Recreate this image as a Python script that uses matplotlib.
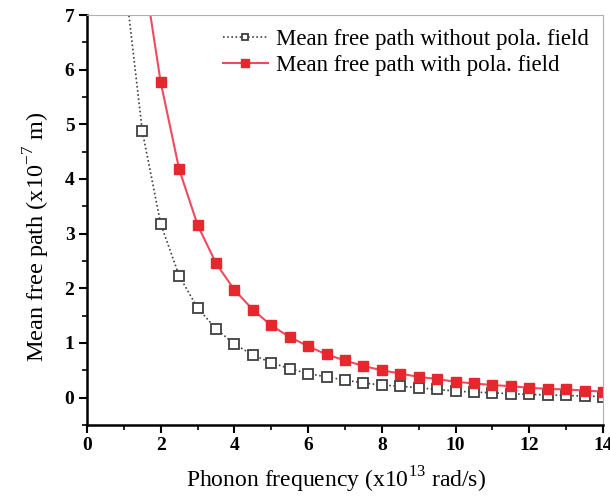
import matplotlib
matplotlib.use("Agg")
import matplotlib.pyplot as plt
from matplotlib.ticker import MultipleLocator

freq_without = [1.0, 1.5, 2.0, 2.5, 3.0, 3.5, 4.0, 4.5, 5.0, 5.5, 6.0, 6.5, 7.0, 7.5,
                8.0, 8.5, 9.0, 9.5, 10.0, 10.5, 11.0, 11.5, 12.0, 12.5, 13.0, 13.5, 14.0]
mfp_without = [7.8, 4.88, 3.18, 2.23, 1.64, 1.26, 0.98, 0.78, 0.64, 0.53, 0.44, 0.38, 0.32, 0.27,
               0.23, 0.21, 0.18, 0.15, 0.12, 0.10, 0.09, 0.07, 0.06, 0.05, 0.04, 0.03, 0.02]

freq_with = [1.5, 2.0, 2.5, 3.0, 3.5, 4.0, 4.5, 5.0, 5.5, 6.0, 6.5, 7.0, 7.5,
             8.0, 8.5, 9.0, 9.5, 10.0, 10.5, 11.0, 11.5, 12.0, 12.5, 13.0, 13.5, 14.0]
mfp_with = [7.97, 5.77, 4.18, 3.16, 2.46, 1.97, 1.61, 1.32, 1.11, 0.94, 0.79, 0.68, 0.58,
            0.50, 0.44, 0.38, 0.34, 0.29, 0.26, 0.23, 0.21, 0.18, 0.16, 0.15, 0.13, 0.11]

label_without = "Mean free path without pola. field"
label_with = "Mean free path with pola. field"
xlabel = "Phonon frequency (x10$^{13}$ rad/s)"
ylabel = "Mean free path (x10$^{-7}$ m)"

plt.rcParams['font.family'] = ['Liberation Serif', 'DejaVu Serif']
plt.rcParams['mathtext.fontset'] = 'custom'
plt.rcParams['mathtext.rm'] = 'Liberation Serif'

fig = plt.figure(figsize=(6.10, 4.97), dpi=100)
ax = fig.add_axes([0.1426, 0.1449, 0.8459, 0.8249])

ax.plot(freq_without, mfp_without, linestyle=(0, (1, 1.5)), color='#404040', lw=1.2,
        marker='s', markersize=7, markerfacecolor='white', markeredgecolor='#404040',
        markeredgewidth=1.3, label=label_without, clip_on=True)
ax.plot(freq_with, mfp_with, linestyle='-', color='#f04a5e', lw=1.5,
        marker='s', markersize=7.5, markerfacecolor='#e5282e', markeredgecolor='#e5282e',
        label=label_with, clip_on=True)

ax.set_xlim(0, 14)
ax.set_ylim(-0.5, 7)
ax.xaxis.set_major_locator(MultipleLocator(2))
ax.xaxis.set_minor_locator(MultipleLocator(1))
ax.yaxis.set_major_locator(MultipleLocator(1))
ax.yaxis.set_minor_locator(MultipleLocator(0.5))
ax.set_yticks([0, 1, 2, 3, 4, 5, 6, 7])

for s in ['left', 'bottom']:
    ax.spines[s].set_linewidth(1.8)
    ax.spines[s].set_color('black')
for s in ['top', 'right']:
    ax.spines[s].set_linewidth(0.8)
    ax.spines[s].set_color('#b0b0b0')

ax.tick_params(which='major', direction='out', length=5.5, width=1.5, labelsize=14)
ax.tick_params(which='minor', direction='out', length=3.5, width=1.2)
ax.tick_params(top=False, right=False, which='both')
for lab in ax.get_xticklabels() + ax.get_yticklabels():
    lab.set_fontweight('bold')

ax.set_xlabel(xlabel, fontsize=17, labelpad=7)
ax.set_ylabel(ylabel, fontsize=17.5, labelpad=9)
ax.xaxis.label.set_x(0.482)
ax.yaxis.label.set_y(0.46)

ax.legend(loc='upper right', frameon=False, fontsize=16.5, handlelength=2.0,
          handletextpad=0.35, borderaxespad=0.3, labelspacing=0.23, markerscale=0.7,
          borderpad=0.3)

fig.savefig("out.png", dpi=100)
